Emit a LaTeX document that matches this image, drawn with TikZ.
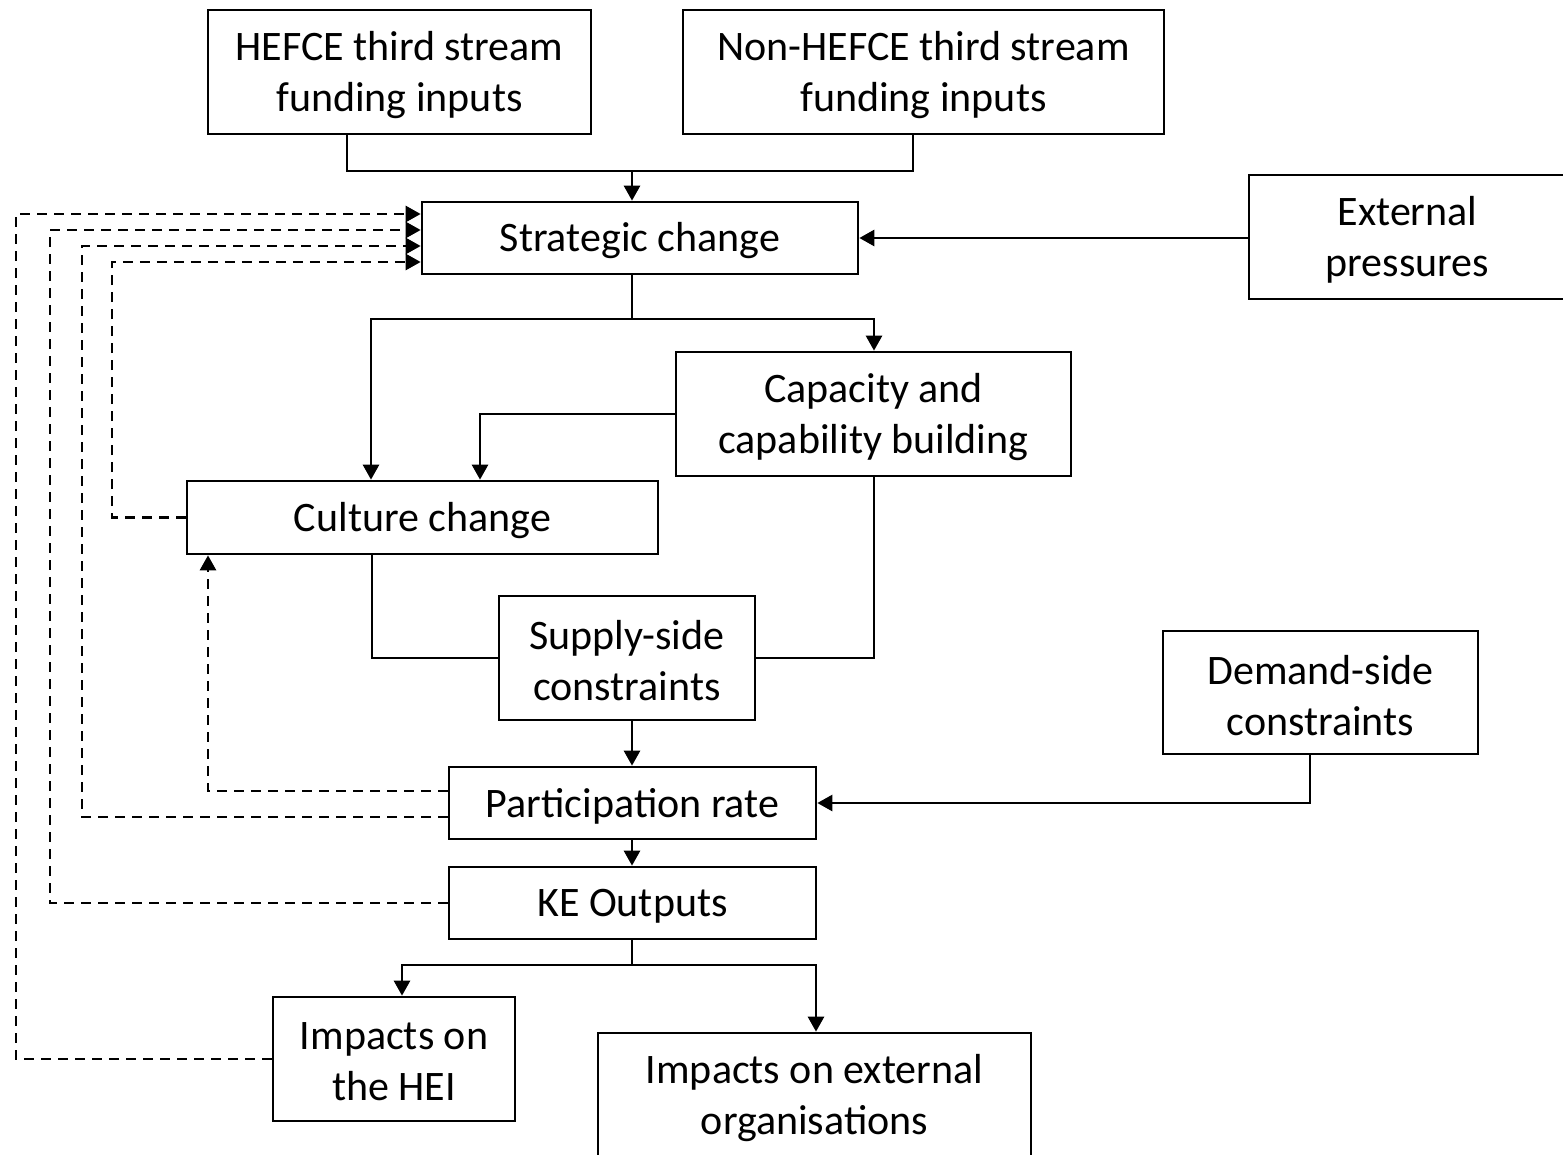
\documentclass[tikz,border=0pt]{standalone}
\usepackage{fontspec}
\setmainfont{Carlito}
\usetikzlibrary{arrows.meta}
\begin{document}
\begin{tikzpicture}[x=0.5pt,y=-0.5pt,
  box/.style={draw, line width=1.35pt, inner sep=0pt},
  txt/.style={align=center, inner sep=0pt, yshift=-1.5pt, font=\fontsize{21}{25.5}\selectfont},
  conn/.style={line width=1.35pt},
  arr/.style={conn, -{Triangle[length=7.5pt,width=8pt]}},
  darr/.style={arr, dash pattern=on 5pt off 3.5pt}]
\clip (0,0) rectangle (1563,1155);
% boxes
\node[box, minimum width=191.5pt, minimum height=62pt, label={[txt]center:{HEFCE third stream\\funding inputs}}] (hefce) at (399.5,72) {};
\node[box, minimum width=240.5pt, minimum height=62pt, label={[txt]center:{Non-HEFCE third stream\\funding inputs}}] (nonhefce) at (923.5,72) {};
\node[box, minimum width=218pt, minimum height=36pt, label={[txt]center:{Strategic change}}] (strat) at (640,238) {};
\node[box, minimum width=158.5pt, minimum height=62pt, label={[txt]center:{External\\pressures}}] (ext) at (1407.5,237) {};
\node[box, minimum width=197.5pt, minimum height=62pt, label={[txt]center:{Capacity and\\capability building}}] (cap) at (873.5,414) {};
\node[box, minimum width=235.5pt, minimum height=36.5pt, label={[txt]center:{Culture change}}] (cult) at (422.5,517.5) {};
\node[box, minimum width=128pt, minimum height=62pt, label={[txt]center:{Supply-side\\constraints}}] (supply) at (627,658) {};
\node[box, minimum width=183.5pt, minimum height=36pt, label={[txt]center:{Participation rate}}] (part) at (632.5,803) {};
\node[box, minimum width=157.5pt, minimum height=61.5pt, label={[txt]center:{Demand-side\\constraints}}] (demand) at (1320.5,692.5) {};
\node[box, minimum width=183.5pt, minimum height=36pt, label={[txt]center:{KE Outputs}}] (ke) at (632.5,903) {};
\node[box, minimum width=121pt, minimum height=62pt, label={[txt]center:{Impacts on\\the HEI}}] (hei) at (394,1059) {};
\node[box, minimum width=216.5pt, minimum height=62pt, label={[txt]center:{Impacts on external\\organisations}}] (extorg) at (814.5,1095) {};
% junctions
\coordinate (j1) at (632,171);
\coordinate (j2) at (632,319);
\coordinate (j3) at (632,965);
% solid connectors
\draw[conn] (347,0 |- hefce.south) |- (j1) -| (913,0 |- nonhefce.south);
\draw[arr] (j1) -- (632,0 |- strat.north);
\draw[arr] (ext.west |- strat.east) -- (strat.east);
\draw[conn] (632,0 |- strat.south) -- (j2);
\draw[arr] (j2) -| (874,0 |- cap.north);
\draw[arr] (j2) -| (371,0 |- cult.north);
\draw[arr] (cap.west) -| (480,0 |- cult.north);
\draw[conn] (372,0 |- cult.south) |- (supply.west);
\draw[conn] (874,0 |- cap.south) |- (supply.east);
\draw[arr] (632,0 |- supply.south) -- (632,0 |- part.north);
\draw[arr] (1310,0 |- demand.south) |- (part.east);
\draw[arr] (632,0 |- part.south) -- (632,0 |- ke.north);
\draw[conn] (632,0 |- ke.south) -- (j3);
\draw[arr] (j3) -| (402,0 |- hei.north);
\draw[arr] (j3) -| (816,0 |- extorg.north);
% dashed feedback
\draw[darr] (hei.west) -| (16,214) -- (strat.west |- 0,214);
\draw[darr] (ke.west) -| (50,230) -- (strat.west |- 0,230);
\draw[darr] (part.west |- 0,817) -| (82,246) -- (strat.west |- 0,246);
\draw[darr] (cult.west) -| (112,262) -- (strat.west |- 0,262);
\draw[darr] (part.west |- 0,791) -| (208,0 |- cult.south);
\end{tikzpicture}
\end{document}
